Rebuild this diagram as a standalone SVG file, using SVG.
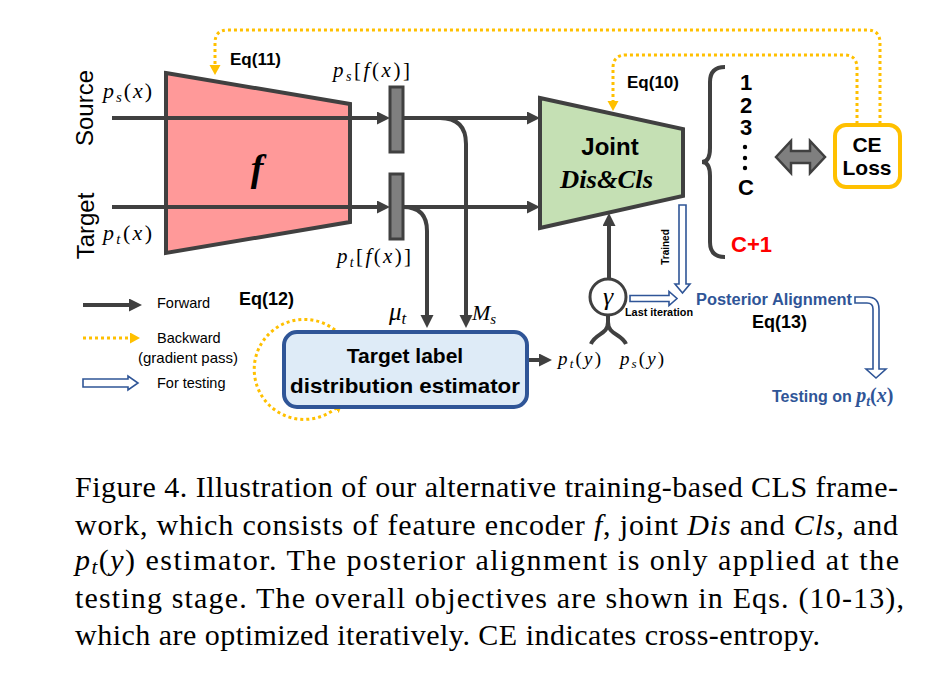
<svg xmlns="http://www.w3.org/2000/svg" width="944" height="688" viewBox="0 0 944 688">
<style>
.dk{stroke:#404040;stroke-width:4;fill:none}
.or{stroke:#FFC000;stroke-width:3;fill:none;stroke-dasharray:3 3}
.hol{fill:#fff;stroke:#2F5597;stroke-width:1.6}
.sans{font-family:"Liberation Sans",Arial,sans-serif}
.b{font-weight:bold}
.m{font-family:"Liberation Serif","Times New Roman",serif;font-style:italic}
.cap{font-family:"Liberation Serif","Times New Roman",serif;font-size:30px;fill:#000}
.blue{fill:#2F5597}
</style>
<defs>
<marker id="ah" markerUnits="userSpaceOnUse" markerWidth="14" markerHeight="14" refX="1" refY="6.5" orient="auto">
<path d="M0,0 L13,6.5 L0,13 Z" fill="#404040"/>
</marker>
<marker id="oh" markerUnits="userSpaceOnUse" markerWidth="12" markerHeight="12" refX="1" refY="5.5" orient="auto">
<path d="M0,0 L10,5.5 L0,11 Z" fill="#FFC000"/>
</marker>
</defs>
<rect width="944" height="688" fill="#fff"/>

<!-- connectors -->
<g id="connectors">
<path class="dk" d="M112,118 L378,118" marker-end="url(#ah)"/>
<path class="dk" d="M112,207 L378,207" marker-end="url(#ah)"/>
<path class="dk" d="M403,118 L528,118" marker-end="url(#ah)"/>
<path class="dk" d="M403,207 L528,207" marker-end="url(#ah)"/>
<path class="dk" d="M440,118 Q466,118 466,144 L466,316" marker-end="url(#ah)"/>
<path class="dk" d="M403,207 Q427,207 427,231 L427,316" marker-end="url(#ah)"/>
<path class="dk" d="M609,279 L609,225" marker-end="url(#ah)"/>
<path class="dk" d="M527,360 L540,360" marker-end="url(#ah)"/>
<path class="dk" d="M608,315 L608,322 C608,335 595,333 591,344 M608,322 C608,335 621,333 626,344"/>
<path class="or" d="M880,124 L880,43 Q880,30 867,30 L228,30 Q215,30 215,43 L215,66" marker-end="url(#oh)"/>
<path class="or" d="M857,124 L857,68 Q857,55 844,55 L626,55 Q613,55 613,68 L613,102" marker-end="url(#oh)"/>
<path class="or" d="M335,330 A50,50 0 1 0 336,408" marker-end="url(#oh)"/>
<path class="hol" d="M679,205 L686,205 L686,284 L690,284 L682.5,293 L675,284 L679,284 Z"/>
<path class="hol" d="M630,295.5 L669,295.5 L669,291.5 L677,298.5 L669,305.5 L669,301.5 L630,301.5 Z"/>
<path class="hol" d="M855,297 L867,297 Q879,297 879,309 L879,369 L886,369 L876,378 L866,369 L873,369 L873,309 Q873,303 867,303 L855,303 Z"/>
<path d="M776,157 L791,141 L791,151 L810,151 L810,141 L825,157 L810,173 L810,163 L791,163 L791,173 Z" fill="#7F7F7F" stroke="#404040" stroke-width="2.5" stroke-linejoin="miter"/>
</g>

<!-- encoder f -->
<g id="encoder-f">
<path d="M166,73 L350,104 L350,222 L166,253 Z" fill="#FF9999" stroke="#404040" stroke-width="4"/>
<path class="dk" d="M112,118 L350,118 M112,207 L350,207"/>
<text x="257" y="181" text-anchor="middle" font-family="'Liberation Serif',serif" font-style="italic" font-weight="bold" font-size="38">f</text>
</g>

<g id="bar-source"><rect x="390" y="87" width="13" height="65" fill="#7F7F7F" stroke="#404040" stroke-width="3"/></g>
<g id="bar-target"><rect x="390" y="174" width="13" height="65" fill="#7F7F7F" stroke="#404040" stroke-width="3"/></g>

<!-- joint -->
<g id="joint">
<path d="M540,98 L683,129 L683,196 L540,228 Z" fill="#C5E0B4" stroke="#404040" stroke-width="4"/>
<text x="610" y="155" text-anchor="middle" class="sans b" font-size="24">Joint</text>
<text x="560" y="188" textLength="93" lengthAdjust="spacingAndGlyphs" class="m b" font-size="25">Dis&amp;Cls</text>
</g>

<!-- output labels -->
<g id="classes">
<path class="dk" d="M725,67 Q710,67 710,82 L710,148 Q710,162 702,162 Q710,162 710,176 L710,242 Q710,257 725,257"/>
<text class="sans b" font-size="22" text-anchor="middle"><tspan x="746" y="90">1</tspan><tspan x="746" y="113">2</tspan><tspan x="746" y="135">3</tspan><tspan x="746" y="195">C</tspan></text>
<circle cx="745" cy="147" r="2.2" fill="#000"/>
<circle cx="745" cy="158" r="2.2" fill="#000"/>
<circle cx="745" cy="168" r="2.2" fill="#000"/>
<text x="731" y="252" class="sans b" font-size="22" fill="#FF0000">C+1</text>
</g>

<g id="ce-loss">
<rect x="835" y="125" width="65" height="62" rx="11" fill="#fff" stroke="#FFC000" stroke-width="4"/>
<text x="867" y="152" text-anchor="middle" class="sans b" font-size="21">CE</text>
<text x="867" y="175" text-anchor="middle" class="sans b" font-size="21">Loss</text>
</g>

<g id="estimator">
<rect x="284" y="332" width="243" height="75" rx="13" fill="#DEEBF7" stroke="#2F5597" stroke-width="4"/>
<text x="405" y="363" text-anchor="middle" class="sans b" font-size="21">Target label</text>
<text x="405" y="393" text-anchor="middle" class="sans b" font-size="21" textLength="230" lengthAdjust="spacingAndGlyphs">distribution estimator</text>
</g>

<g id="gamma">
<circle cx="608" cy="297" r="18" fill="#fff" stroke="#404040" stroke-width="3"/>
<text x="608" y="305" text-anchor="middle" class="m" font-size="26">γ</text>
</g>

<!-- labels -->
<g id="labels">
<text class="sans" font-size="24" text-anchor="middle" transform="translate(93,108) rotate(-90)">Source</text>
<text class="sans" font-size="24" text-anchor="middle" transform="translate(94,226) rotate(-90)">Target</text>
<text x="103" y="98" class="m" font-size="22" textLength="49" lengthAdjust="spacing">p<tspan font-size="15" dy="4">s</tspan><tspan dy="-4" font-style="normal">(</tspan>x<tspan font-style="normal">)</tspan></text>
<text x="103" y="240" class="m" font-size="22" textLength="49" lengthAdjust="spacing">p<tspan font-size="15" dy="4">t</tspan><tspan dy="-4" font-style="normal">(</tspan>x<tspan font-style="normal">)</tspan></text>
<text x="333" y="77" class="m" font-size="21" textLength="77" lengthAdjust="spacing">p<tspan font-size="14" dy="4">s</tspan><tspan dy="-4" font-style="normal">[</tspan>f<tspan font-style="normal">(</tspan>x<tspan font-style="normal">)]</tspan></text>
<text x="337" y="263" class="m" font-size="21" textLength="74" lengthAdjust="spacing">p<tspan font-size="14" dy="4">t</tspan><tspan dy="-4" font-style="normal">[</tspan>f<tspan font-style="normal">(</tspan>x<tspan font-style="normal">)]</tspan></text>
<text x="389" y="320" class="m" font-size="25">μ<tspan font-size="17" dy="4">t</tspan></text>
<text x="472" y="320" class="m" font-size="22">M<tspan font-size="15" dy="4">s</tspan></text>
<text x="558" y="365" class="m" font-size="19" textLength="43" lengthAdjust="spacing">p<tspan font-size="13" dy="3">t</tspan><tspan dy="-3" font-style="normal">(</tspan>y<tspan font-style="normal">)</tspan></text>
<text x="620" y="365" class="m" font-size="19" textLength="44" lengthAdjust="spacing">p<tspan font-size="13" dy="3">s</tspan><tspan dy="-3" font-style="normal">(</tspan>y<tspan font-style="normal">)</tspan></text>
<text x="230" y="65" class="sans b" font-size="17">Eq(11)</text>
<text x="627" y="88" class="sans b" font-size="17">Eq(10)</text>
<text x="239" y="305" class="sans b" font-size="18">Eq(12)</text>
<text x="752" y="328" class="sans b" font-size="18">Eq(13)</text>
<text class="sans b" font-size="10" text-anchor="middle" transform="translate(669,247) rotate(-90)">Trained</text>
<text x="625" y="316" class="sans b" font-size="10.5" textLength="68" lengthAdjust="spacingAndGlyphs">Last iteration</text>
<text x="696" y="305" class="sans b blue" font-size="16" textLength="156" lengthAdjust="spacingAndGlyphs">Posterior Alignment</text>
<text x="772" y="402" class="sans b blue" font-size="16">Testing on <tspan class="m" font-size="20">p<tspan font-size="14" dy="4">t</tspan><tspan dy="-4" font-style="normal">(</tspan>x<tspan font-style="normal">)</tspan></tspan></text>
</g>

<g id="legend">
<path class="dk" d="M83,305 L130,305" stroke-width="3.5" marker-end="url(#ah)"/>
<text x="157" y="308" class="sans" font-size="14.5">Forward</text>
<path class="or" d="M83,338 L131,338" marker-end="url(#oh)"/>
<text x="157" y="343" class="sans" font-size="14.5">Backward</text>
<text x="138" y="363" class="sans" font-size="14.5" textLength="100" lengthAdjust="spacingAndGlyphs">(gradient pass)</text>
<path class="hol" d="M83,379 L128,379 L128,376 L138,383 L128,390 L128,387 L83,387 Z"/>
<text x="157" y="388" class="sans" font-size="14.5">For testing</text>
</g>

<g id="caption" class="cap">
<text x="75" y="497" textLength="823" lengthAdjust="spacing">Figure 4. Illustration of our alternative training-based CLS frame-</text>
<text x="75" y="535" textLength="823" lengthAdjust="spacing">work, which consists of feature encoder <tspan font-style="italic">f</tspan>, joint <tspan font-style="italic">Dis</tspan> and <tspan font-style="italic">Cls</tspan>, and</text>
<text x="75" y="570" textLength="824" lengthAdjust="spacing"><tspan font-style="italic">p</tspan><tspan font-style="italic" font-size="21" dy="4">t</tspan><tspan dy="-4">(</tspan><tspan font-style="italic">y</tspan>) estimator.  The posterior alignment is only applied at the</text>
<text x="75" y="608" textLength="829" lengthAdjust="spacing">testing stage.  The overall objectives are shown in Eqs.  (10-13),</text>
<text x="75" y="645" textLength="745" lengthAdjust="spacing">which are optimized iteratively. CE indicates cross-entropy.</text>
</g>
</svg>
